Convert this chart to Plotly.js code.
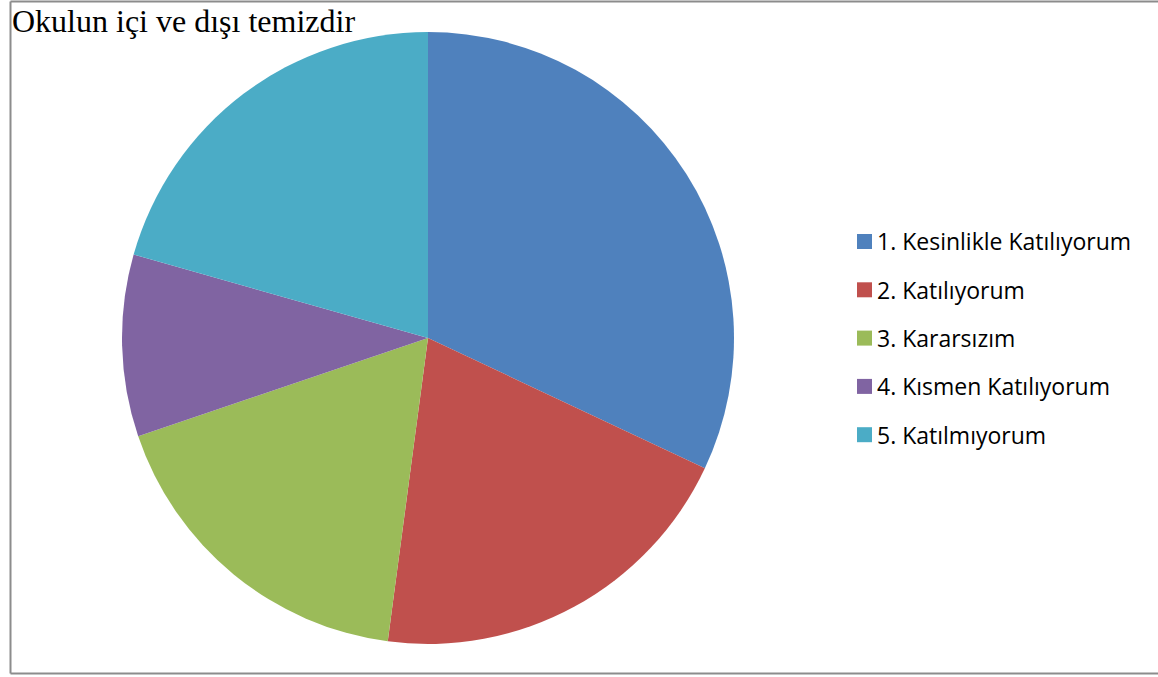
<!DOCTYPE html>
<html>
<head>
<meta charset="utf-8">
<script src="https://cdn.plot.ly/plotly-3.0.1.min.js"></script>
<style>html,body{margin:0;padding:0;background:#fff;}#chart{width:1158px;height:677px;}</style>
</head>
<body>
<div id="chart"></div>
<script>
const titleText = "Okulun içi ve dışı temizdir";
const labels = ["1. Kesinlikle Katılıyorum", "2. Katılıyorum", "3. Kararsızım", "4. Kısmen Katılıyorum", "5. Katılmıyorum"];
const values = [32.0, 20.1, 17.7, 9.6, 20.6];
const colors = ["#4F81BD", "#C0504D", "#9BBB59", "#8064A2", "#4BACC6"];

const W = 1158, H = 677;
const px = x => x / W;
const py = y => 1 - y / H;

const trace = {
  type: "pie",
  labels: labels,
  values: values,
  sort: false,
  direction: "clockwise",
  rotation: 0,
  textinfo: "none",
  hoverinfo: "label+value+percent",
  marker: { colors: colors, line: { width: 0 } },
  domain: { x: [px(122), px(734)], y: [py(644), py(32)] },
  showlegend: false
};

const shapes = [
  { type: "line", xref: "paper", yref: "paper", x0: px(10.5), x1: px(1158), y0: py(1.5), y1: py(1.5), line: { color: "#8c8c8c", width: 2 } },
  { type: "line", xref: "paper", yref: "paper", x0: px(10.5), x1: px(10.5), y0: py(1.5), y1: py(673.5), line: { color: "#8c8c8c", width: 2 } },
  { type: "line", xref: "paper", yref: "paper", x0: px(10.5), x1: px(1158), y0: py(673.5), y1: py(673.5), line: { color: "#8c8c8c", width: 2 } }
];
const annotations = [
  { xref: "paper", yref: "paper", x: px(9.5), y: py(21), xanchor: "left", yanchor: "middle", showarrow: false, text: titleText, font: { family: "'Liberation Serif', 'Times New Roman', serif", size: 32, color: "#000" } }
];
labels.forEach((lab, i) => {
  const cy = 241.5 + i * 48.3;
  shapes.push({ type: "rect", xref: "paper", yref: "paper", x0: px(857), x1: px(872), y0: py(cy + 7.5), y1: py(cy - 7.5), fillcolor: colors[i], line: { width: 0 } });
  annotations.push({ xref: "paper", yref: "paper", x: px(875), y: py(cy), xanchor: "left", yanchor: "middle", showarrow: false, text: lab, font: { family: "'Open Sans', 'Noto Sans', sans-serif", size: 23, color: "#000" } });
});

const layout = {
  width: W, height: H,
  margin: { l: 0, r: 0, t: 0, b: 0 },
  paper_bgcolor: "#fff",
  shapes: shapes,
  annotations: annotations
};

Plotly.newPlot("chart", [trace], layout, { displayModeBar: false, staticPlot: true });
</script>
</body>
</html>
